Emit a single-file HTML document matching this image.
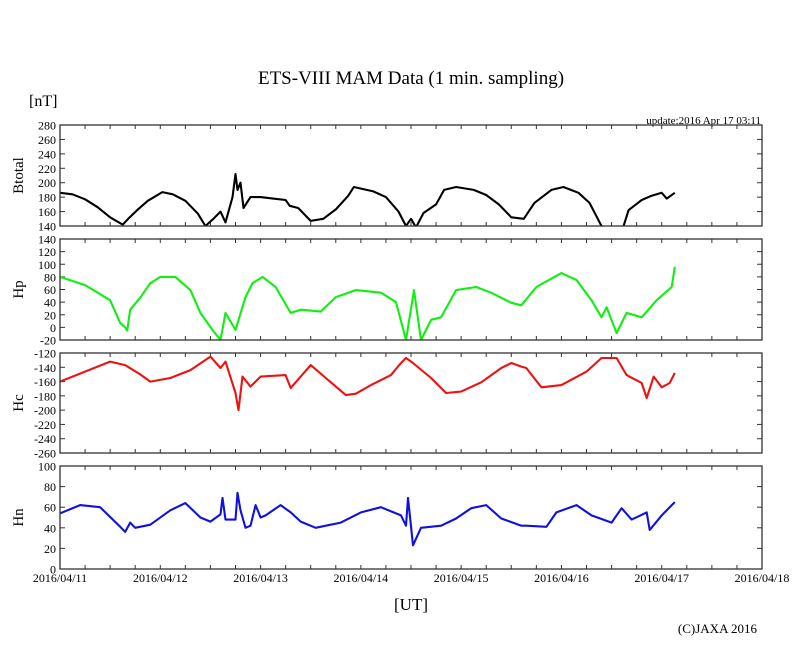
<!DOCTYPE html>
<html><head><meta charset="utf-8">
<style>
html,body{margin:0;padding:0;background:#fff;}
svg{display:block;font-family:"Liberation Serif",serif;}
</style></head>
<body>
<svg id="chart" width="810" height="655" viewBox="0 0 810 655" xmlns="http://www.w3.org/2000/svg">
<text x="411" y="84" font-size="19" text-anchor="middle">ETS-VIII MAM Data (1 min. sampling)</text>
<text x="29" y="106" font-size="16">[nT]</text>
<text x="761" y="124" font-size="11" text-anchor="end">update:2016 Apr 17 03:11</text>
<text x="411" y="610" font-size="17" text-anchor="middle">[UT]</text>
<text x="757" y="633" font-size="13" text-anchor="end">(C)JAXA 2016</text>
<g id="plots"></g>
</svg>
<script>
// time in days since 2016/04/11 00:00 UT
const btTimes=[0,.125,.25,.375,.5,.625,.68,.77,.875,1.02,1.125,1.25,1.375,1.45,1.53,1.6,1.65,1.72,1.75,1.77,1.8,1.83,1.9,2,2.125,2.25,2.29,2.375,2.5,2.625,2.75,2.875,2.93,3.125,3.25,3.375,3.45,3.5,3.55,3.625,3.75,3.83,3.95,4.125,4.25,4.375,4.5,4.625,4.73,4.9,5.02,5.17,5.28,5.37,5.4,5.45,5.55,5.62,5.67,5.8,5.9,6,6.05,6.13];
const btVals=[186,184,177,166,152,142,150,162,175,187,184,175,157,140,150,160,145,180,212,190,200,165,180,180,178,176,168,165,147,150,163,182,194,188,180,160,140,150,138,158,170,190,194,190,183,170,152,150,172,190,194,186,172,148,140,138,135,140,162,176,182,186,178,186];
const hpTimes=[0,.25,.5,.6,.65,.67,.7,.8,.9,1,1.15,1.3,1.4,1.52,1.6,1.65,1.75,1.85,1.92,1.97,2.02,2.15,2.3,2.4,2.6,2.75,2.95,3.2,3.35,3.45,3.53,3.6,3.7,3.8,3.95,4.15,4.3,4.5,4.6,4.75,5,5.15,5.3,5.4,5.45,5.55,5.65,5.8,5.95,6.1,6.13];
const hpVals=[80,67,43,7,0,-5,28,47,70,80,80,59,23,-4,-20,23,-4,48,70,75,80,64,23,28,25,48,59,55,40,-20,59,-20,12,16,59,64,55,39,35,64,86,75,43,16,32,-9,23,16,43,64,96];
const hcTimes=[0,.5,.65,.8,.9,1.1,1.3,1.5,1.6,1.65,1.75,1.78,1.82,1.9,2,2.25,2.3,2.5,2.65,2.85,2.95,3.1,3.3,3.4,3.45,3.52,3.58,3.7,3.85,4,4.2,4.4,4.5,4.6,4.65,4.8,5,5.25,5.4,5.55,5.65,5.8,5.85,5.92,6,6.08,6.13];
const hcVals=[-160,-132,-137,-150,-160,-155,-144,-125,-141,-132,-176,-200,-153,-167,-153,-151,-169,-137,-155,-179,-177,-165,-151,-134,-127,-134,-141,-155,-176,-174,-161,-141,-134,-139,-141,-168,-165,-146,-127,-127,-151,-162,-183,-153,-168,-162,-148];
const hnTimes=[0,.2,.4,.6,.65,.7,.75,.9,1.1,1.25,1.4,1.5,1.6,1.62,1.65,1.75,1.77,1.8,1.85,1.9,1.95,2,2.05,2.2,2.3,2.4,2.55,2.65,2.8,3,3.2,3.4,3.45,3.47,3.52,3.6,3.8,3.95,4.1,4.25,4.4,4.6,4.65,4.85,4.95,5.15,5.3,5.5,5.6,5.7,5.85,5.88,6,6.13];
const hnVals=[54,62,60,41,36,45,40,43,57,64,50,46,53,69,48,48,74,57,40,42,62,50,52,62,55,46,40,42,45,55,60,52,42,69,23,40,42,49,59,62,49,42,42,41,55,62,52,45,59,48,55,38,52,65];
const btTicks=[140,160,180,200,220,240,260,280];
const hpTicks=[-20,0,20,40,60,80,100,120,140];
const hcTicks=[-260,-240,-220,-200,-180,-160,-140,-120];
const hnTicks=[0,20,40,60,80,100];
const dayLabels=["2016/04/11","2016/04/12","2016/04/13","2016/04/14","2016/04/15","2016/04/16","2016/04/17","2016/04/18"];

const NS="http://www.w3.org/2000/svg";
const g=document.getElementById('plots');
const X0=60,X1=762,DAYS=7;
function xs(d){return X0+(X1-X0)*d/DAYS;}
function mk(tag,attrs,parent){const e=document.createElementNS(NS,tag);for(const k in attrs)e.setAttribute(k,attrs[k]);(parent||g).appendChild(e);return e;}

const panels=[
 {name:'btotal',label:'Btotal',top:125,bot:226,ticks:btTicks,times:btTimes,vals:btVals,color:'#000'},
 {name:'hp',label:'Hp',top:239,bot:340,ticks:hpTicks,times:hpTimes,vals:hpVals,color:'#11ee11'},
 {name:'hc',label:'Hc',top:353,bot:453,ticks:hcTicks,times:hcTimes,vals:hcVals,color:'#ee1111'},
 {name:'hn',label:'Hn',top:466,bot:569,ticks:hnTicks,times:hnTimes,vals:hnVals,color:'#1111dd'}
];
panels.forEach((p,i)=>{
 const lo=p.ticks[0],hi=p.ticks[p.ticks.length-1];
 const ys=v=>p.bot-(v-lo)/(hi-lo)*(p.bot-p.top);
 const cp=mk('clipPath',{id:'clip'+i});
 mk('rect',{x:X0,y:p.top,width:X1-X0,height:p.bot-p.top},cp);
 p.ticks.forEach(t=>{
  const y=ys(t);
  const tl=mk('line',{x1:X0,x2:X0+5,y1:y,y2:y,stroke:'#333','stroke-width':1});
  
  
  const tr=mk('line',{x1:X1-5,x2:X1,y1:y,y2:y,stroke:'#333','stroke-width':1});
  
  
  const tx=mk('text',{x:X0-4,y:y+4.5,'font-size':12,'text-anchor':'end'});
  tx.textContent=t;
  
  
 });
 for(let k=1;k<DAYS*4;k++){
  const x=xs(k/4);
  mk('line',{x1:x,x2:x,y1:p.top,y2:p.top+4,stroke:'#333','stroke-width':1});
  mk('line',{x1:x,x2:x,y1:p.bot-4,y2:p.bot,stroke:'#333','stroke-width':1});
 }
 let d='';
 p.times.forEach((t,j)=>{d+=(j?'L':'M')+xs(t).toFixed(1)+','+ys(p.vals[j]).toFixed(1);});
 const path=mk('path',{d:d,fill:'none',stroke:p.color,'stroke-width':2.1,'stroke-linejoin':'round','clip-path':'url(#clip'+i+')'});
 
 
 const fr=mk('rect',{x:X0,y:p.top,width:X1-X0,height:p.bot-p.top,fill:'none',stroke:'#333','stroke-width':1.3});
 
 
 const cy=(p.top+p.bot)/2;
 const yl=mk('text',{x:0,y:0,'font-size':15,'text-anchor':'middle',transform:'translate(23,'+cy+') rotate(-90)'});
 yl.textContent=p.label;
 
 
});
dayLabels.forEach((lab,k)=>{
 const t=mk('text',{x:xs(k),y:582,'font-size':12,'text-anchor':'middle'});
 t.textContent=lab;
 
 
});
</script>
</body></html>
